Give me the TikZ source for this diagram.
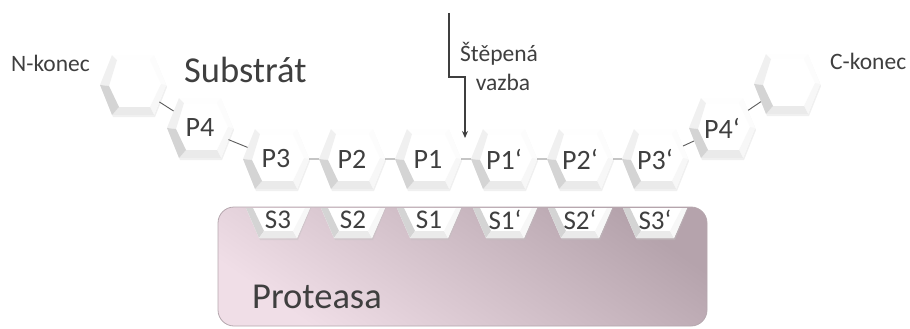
\documentclass[tikz,border=0pt]{standalone}
\usepackage{fontspec}
\setmainfont{Carlito}
\usetikzlibrary{shapes.symbols,arrows.meta,calc}
\definecolor{txt}{HTML}{3F3F3F}
\definecolor{conn}{HTML}{5A5A5A}
\definecolor{protA}{HTML}{B5A3AC}
\definecolor{protB}{HTML}{F0DEE7}
\definecolor{protEdge}{HTML}{B5A7AE}
\definecolor{fUL}{HTML}{F0F0F0}
\definecolor{fTop}{HTML}{FEFEFE}
\definecolor{fUR}{HTML}{FCFCFC}
\definecolor{fLR}{HTML}{F7F7F7}
\definecolor{fBot}{HTML}{EAEAEA}
\definecolor{fLL}{HTML}{D4D4D4}
\newcommand\hexbody[2]{%
  \begin{scope}[shift={(#1,#2)}]
    \fill[black!20,opacity=.3] (-32,2)--(-20,-27)--(22,-27)--(34,2)--(22,32)--(-20,32)--cycle;
    \fill[white] (-33,0)--(-21,-30)--(21,-30)--(33,0)--(21,30)--(-21,30)--cycle;
    \fill[fUL]  (-33,0)--(-21,-30)--(-16,-25)--(-24,1)--cycle;
    \fill[fTop] (-21,-30)--(21,-30)--(17,-25)--(-16,-25)--cycle;
    \fill[fUR]  (21,-30)--(33,0)--(28,-1)--(17,-25)--cycle;
    \fill[fLR]  (33,0)--(21,30)--(17,22)--(28,-1)--cycle;
    \fill[fBot] (21,30)--(-21,30)--(-14,22)--(17,22)--cycle;
    \fill[fLL]  (-21,30)--(-33,0)--(-24,1)--(-14,22)--cycle;
  \end{scope}}
\newcommand\pocketbody[1]{%
  \begin{scope}[shift={(#1,0)}]
    \fill[black!25,opacity=.4] (-31,208)--(-18,240)--(20,240)--(33,208)--cycle;
    \fill[white] (-32,208)--(-19,238)--(19,238)--(32,208)--cycle;
    \fill[fLL] (-32,208)--(-19,238)--(-14,231)--(-25,208)--cycle;
    \fill[fBot] (-19,238)--(19,238)--(15,231)--(-14,231)--cycle;
    \fill[fLR] (19,238)--(32,208)--(27,208)--(15,231)--cycle;
  \end{scope}}
\begin{document}
\begin{tikzpicture}[x=1pt,y=-1pt,
  hexn/.style={signal, signal to=east and west, signal pointer angle=136,
    minimum width=66pt, minimum height=60pt, inner sep=0pt, draw=none,
    text=txt, font=\fontsize{28}{32}\selectfont},
  slab/.style={inner sep=0pt, text=txt, font=\fontsize{27}{31}\selectfont},
  conline/.style={draw=conn, line width=0.9pt},
  lab/.style={text=txt, inner sep=0pt, font=\fontsize{23.5}{28}\selectfont},
  big/.style={text=txt, inner sep=0pt, font=\fontsize{36.5}{40}\selectfont},
  cutarrow/.style={draw=txt, line width=1.2pt, -{Stealth[length=7pt,width=6pt]}},
  protbox/.style={rounded corners=16pt, draw=protEdge, line width=0.8pt,
    top color=protA, bottom color=protB, shading angle=-35,
    minimum width=489pt, minimum height=119pt, inner sep=0pt}
]
\useasboundingbox (0,0) rectangle (910,329);

% protease body
\node[protbox] (prot) at (462.5,266.5) {};
\foreach \px in {278,353,429,505,580,655} {\pocketbody{\px}}
\node[slab] (s3)  at (278,220) {S3};
\node[slab] (s2)  at (353,220) {S2};
\node[slab] (s1)  at (429,220) {S1};
\node[slab] (s1p) at (505,220) {S1‘};
\node[slab] (s2p) at (580,220) {S2‘};
\node[slab] (s3p) at (655,220) {S3‘};
\node[big, anchor=base west] (ptext) at (252,308) {Proteasa};

% substrate hexagons
\hexbody{133}{85}
\hexbody{200}{128}
\hexbody{276}{159}
\hexbody{352}{159}
\hexbody{428}{159}
\hexbody{504}{159}
\hexbody{580}{159}
\hexbody{655}{159}
\hexbody{722}{128}
\hexbody{787}{84}
\node[hexn] (nend) at (133,85) {};
\node[hexn] (p4)  at (200,128) {P4};
\node[hexn] (p3)  at (276,159) {P3};
\node[hexn] (p2)  at (352,159) {P2};
\node[hexn] (p1)  at (428,159) {P1};
\node[hexn] (p1p) at (504,159) {P1‘};
\node[hexn] (p2p) at (580,159) {P2‘};
\node[hexn] (p3p) at (655,159) {P3‘};
\node[hexn] (p4p) at (722,128) {P4‘};
\node[hexn] (cend) at (787,84) {};

\draw[conline] (nend) -- (p4);
\draw[conline] (p4) -- (p3);
\draw[conline] (p3) -- (p2);
\draw[conline] (p2) -- (p1);
\draw[conline] (p1) -- (p1p);
\draw[conline] (p1p) -- (p2p);
\draw[conline] (p2p) -- (p3p);
\draw[conline] (p3p) -- (p4p);
\draw[conline] (p4p) -- (cend);

% labels
\node[lab, anchor=base west] (nlab) at (11,71) {N-konec};
\node[lab, anchor=base west] (clab) at (830,70) {C-konec};
\node[big, anchor=base west] (sub) at (184,82) {Substrát};
\node[lab, anchor=base] (cut1) at (499,62) {Štěpená};
\node[lab, anchor=base] (cut2) at (503,90) {vazba};

% cleavage arrow
\coordinate (cutTop) at (449,13);
\coordinate (cutTip) at (465,138);
\draw[cutarrow] (cutTop) -- ++(0,64) -| (cutTip);
\end{tikzpicture}
\end{document}
